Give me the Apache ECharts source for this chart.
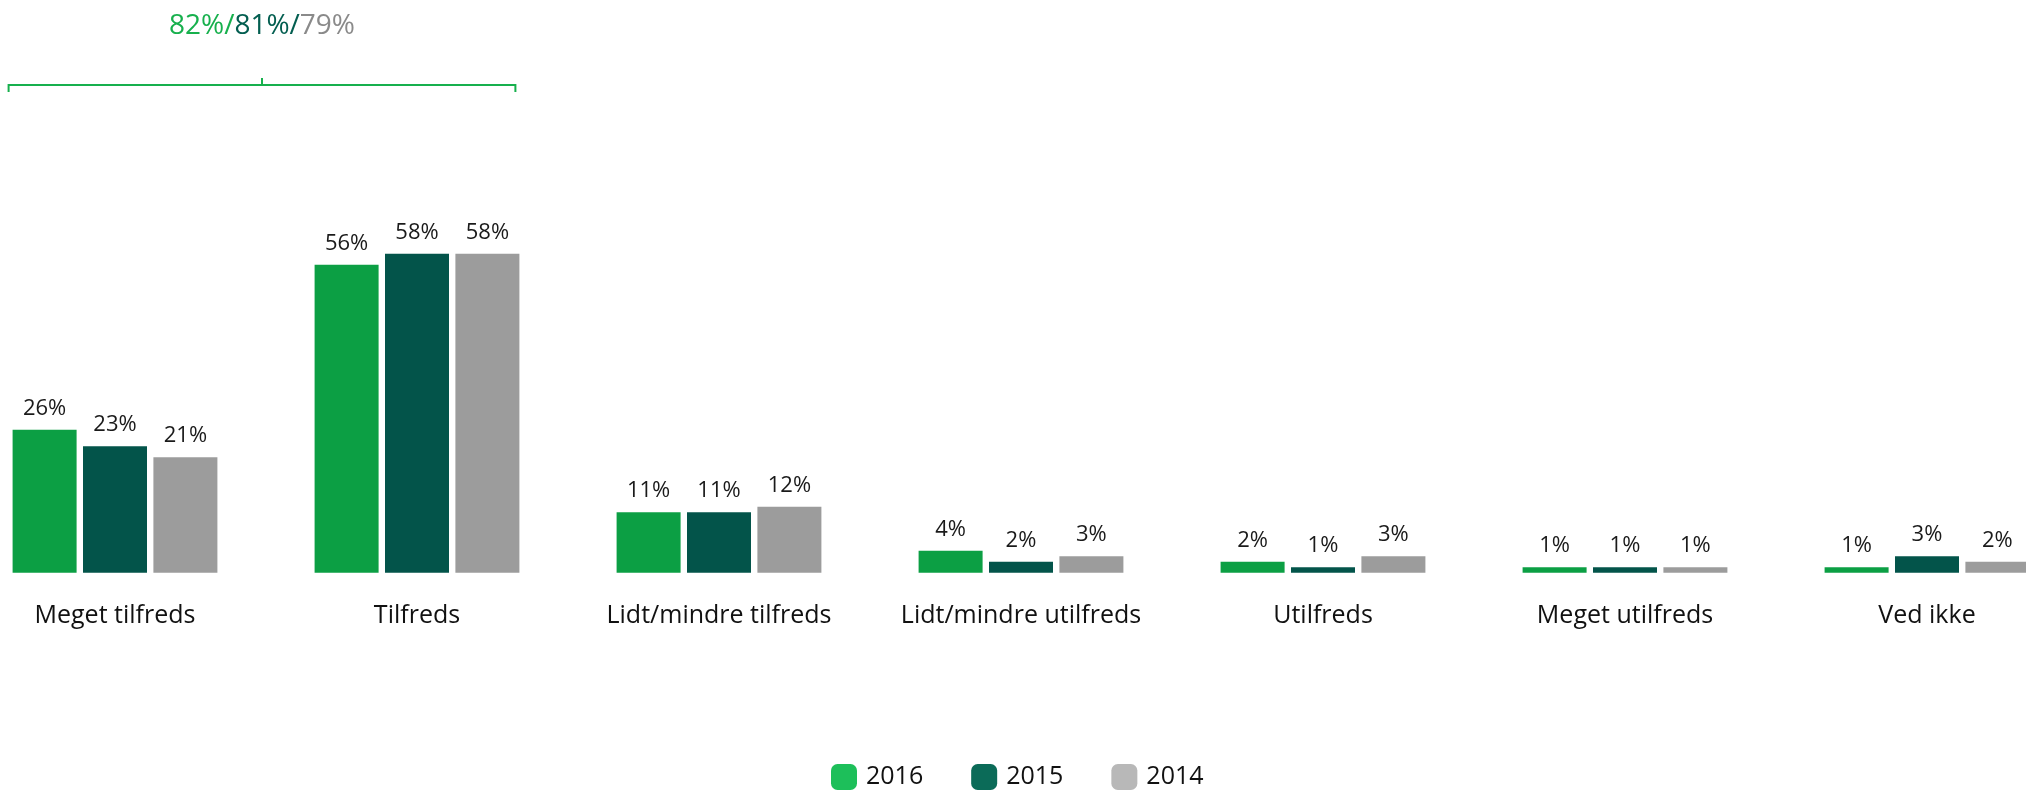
<!DOCTYPE html>
<html><head><meta charset="utf-8">
<script src="https://cdn.jsdelivr.net/npm/echarts@6/dist/echarts.min.js"></script>
<style>html,body{margin:0;padding:0;background:#fff;overflow:hidden;width:2026px;height:795px}
#c{position:absolute;left:-36px;top:0;width:2114px;height:795px}</style>
</head><body><div id="c"></div>
<script>
const categories = ['Meget tilfreds','Tilfreds','Lidt/mindre tilfreds','Lidt/mindre utilfreds','Utilfreds','Meget utilfreds','Ved ikke'];
const years = ['2016','2015','2014'];
const v2016 = [26,56,11,4,2,1,1];
const v2015 = [23,58,11,2,1,1,3];
const v2014 = [21,58,12,3,3,1,2];
const seriesValues = [v2016, v2015, v2014];
const barColors = ['#0c9f44','#03544a','#9c9c9c'];
const legendColors = ['#1dbf5a','#0b6b58','#b8b8b8'];
const bracketColors = ['#17b04d','#035e50','#8a8a8a'];
const bracketGroups = [0, 1];

const FONT = '"Open Sans", "Noto Sans", sans-serif';
const BAR_W = 64;
const chart = echarts.init(document.getElementById('c'));
const option = {
  animation: false,
  backgroundColor: '#fff',
  grid: { left: 0, right: 0, top: 22.7, bottom: 222.3 },
  legend: {
    bottom: 0, left: 862,
    itemWidth: 26, itemHeight: 26, itemGap: 48,
    icon: 'roundRect',
    textStyle: { fontFamily: FONT, fontSize: 25, color: '#111', padding: [0,0,0,4] },
    data: years.map((y, i) => ({ name: y, itemStyle: { color: legendColors[i] } }))
  },
  xAxis: {
    type: 'category', data: categories,
    axisLine: { show: false }, axisTick: { show: false },
    axisLabel: { fontFamily: FONT, fontSize: 25, color: '#111', margin: 31, interval: 0 }
  },
  yAxis: { type: 'value', min: 0, max: 100, show: false, splitLine: { show: false } },
  series: years.map((y, i) => ({
    name: y, type: 'bar', data: seriesValues[i],
    barWidth: BAR_W, barGap: '10%',
    itemStyle: { color: barColors[i] },
    label: { show: true, position: 'top', distance: 10, formatter: '{c}%',
             fontFamily: FONT, fontSize: 22, color: '#1a1a1a' }
  }))
};
chart.setOption(option);

// bracket annotation over the first two groups, positioned from the axis
const half = (3 * BAR_W + 2 * BAR_W * 0.1) / 2;
const xa = chart.convertToPixel({ xAxisIndex: 0 }, categories[bracketGroups[0]]) - half - 4;
const xb = chart.convertToPixel({ xAxisIndex: 0 }, categories[bracketGroups[1]]) + half - 4;
const xm = (xa + xb) / 2;
const by = 85;
const sums = seriesValues.map(arr => bracketGroups.reduce((s, g) => s + arr[g], 0));
chart.setOption({
  graphic: [
    { type: 'polyline', shape: { points: [[xa, by + 7], [xa, by], [xb, by], [xb, by + 7]] },
      style: { stroke: '#17b04d', lineWidth: 2, fill: null } },
    { type: 'line', shape: { x1: xm, y1: by, x2: xm, y2: by - 7 },
      style: { stroke: '#17b04d', lineWidth: 2 } },
    { type: 'text', x: xm, y: 26,
      style: {
        text: '{a|' + sums[0] + '%/}{b|' + sums[1] + '%/}{c|' + sums[2] + '%}',
        align: 'center', verticalAlign: 'middle',
        rich: {
          a: { fontFamily: FONT, fontSize: 28, fill: bracketColors[0] },
          b: { fontFamily: FONT, fontSize: 28, fill: bracketColors[1] },
          c: { fontFamily: FONT, fontSize: 28, fill: bracketColors[2] }
        }
      } }
  ]
});
</script></body></html>
